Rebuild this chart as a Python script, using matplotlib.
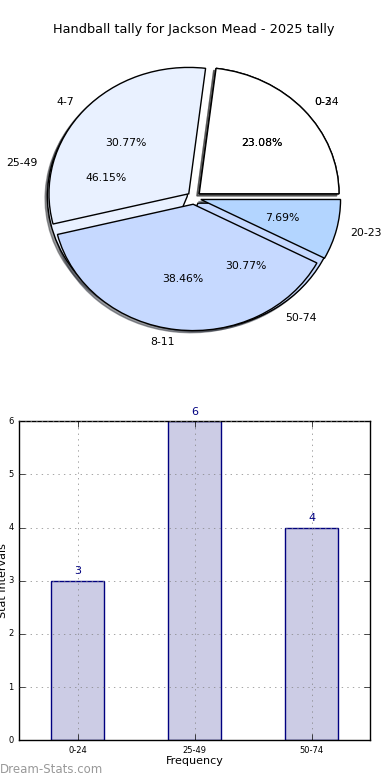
import matplotlib
matplotlib.use("Agg")
import matplotlib.pyplot as plt

plt.style.use("classic")

title = "Handball tally for Jackson Mead - 2025 tally"

# coarse bins (bar chart + lower pie)
bins_coarse = ["0-24", "25-49", "50-74"]
counts_coarse = [3, 6, 4]

# fine bins (upper pie)
bins_fine = ["0-3", "4-7", "8-11", "20-23"]
counts_fine = [3, 4, 5, 1]

fine_colors = ["#ffffff", "#e9f1ff", "#c6d9ff", "#b3d5ff"]
coarse_colors = ["#ffffff", "#e9f1ff", "#c6d9ff"]

fig = plt.figure(figsize=(3.9, 7.8), dpi=100, facecolor="white")

# --- pie ---
shadow = {"ox": -0.012, "oy": -0.012, "shade": 0.75}
ax1 = fig.add_axes([0.0494, 0.5437, 0.896, 0.405])
ax1.pie(counts_coarse, labels=bins_coarse, autopct="%.2f%%", shadow=shadow,
        explode=[0.05] * len(counts_coarse), colors=coarse_colors,
        textprops={"fontsize": 7.8})
ax1.pie(counts_fine, labels=bins_fine, autopct="%.2f%%", shadow=shadow,
        explode=[0.05] * len(counts_fine), colors=fine_colors,
        textprops={"fontsize": 7.8})
ax1.set_aspect("auto")
ax1.set_xlim(-1.25, 1.25)
ax1.set_ylim(-1.25, 1.25)
ax1.set_title(title, fontsize=9.3)

# --- bars ---
ax2 = fig.add_axes([0.049, 0.051, 0.9, 0.409])
x = range(len(bins_coarse))
bars = ax2.bar(x, counts_coarse, width=0.45, align="center",
               color="#cccce5", edgecolor="navy")
for b, v in zip(bars, counts_coarse):
    ax2.text(b.get_x() + b.get_width() / 2, v + 0.08, str(v),
             ha="center", va="bottom", color="navy", fontsize=8)
ax2.set_xlim(-0.5, 2.5)
ax2.set_ylim(0, 6)
ax2.set_xticks(list(x))
ax2.set_xticklabels(bins_coarse)
ax2.tick_params(labelsize=6)
ax2.grid(True, color="gray", linestyle=":")
ax2.set_xlabel("Frequency", fontsize=8, labelpad=1)
ax2.set_ylabel("Stat Intervals", fontsize=8, labelpad=0)

fig.text(0.0, 0.005, "Dream-Stats.com", color="#999999", fontsize=8.5,
         ha="left", va="bottom")

fig.savefig("out.png", dpi=100, facecolor="white")
